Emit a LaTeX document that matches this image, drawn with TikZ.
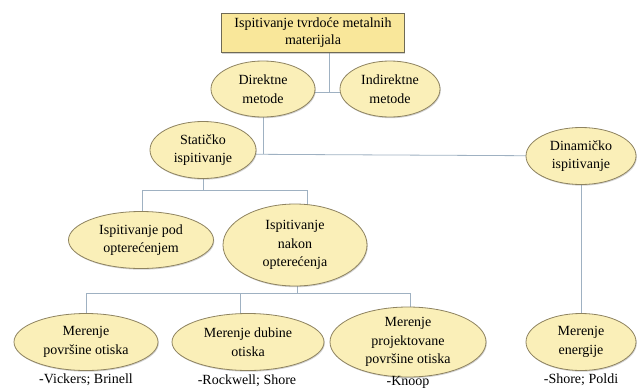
\documentclass[tikz,border=0pt]{standalone}
\usepackage{fontspec}
\setmainfont{Liberation Serif}
\usetikzlibrary{shapes.geometric,shadows}
\pgfdeclarelayer{bg}
\pgfsetlayers{bg,main}
\definecolor{conncol}{HTML}{9FB1C2}
\definecolor{ellin}{HTML}{FAEFB8}
\definecolor{ellmid}{HTML}{F3DF8E}
\definecolor{ellout}{HTML}{CDB054}
\definecolor{elldraw}{HTML}{8E8360}
\definecolor{titlefill}{HTML}{F9E79A}
\definecolor{titledraw}{HTML}{6F6A55}
\pgfdeclareradialshading{ellshade}{\pgfpoint{0bp}{0bp}}{color(0bp)=(ellin); color(26bp)=(ellin); color(41bp)=(ellmid); color(47bp)=(ellout); color(50bp)=(ellout)}
\tikzset{
  ell/.style={ellipse, inner sep=0pt, align=center, shading=ellshade,
    draw=elldraw, line width=0.8pt, drop shadow={shadow xshift=0.8pt, shadow yshift=-1.2pt, opacity=0.35},
    font=\fontsize{14}{18.5}\selectfont},
  titlebox/.style={rectangle, inner sep=0pt, align=center, fill=titlefill, draw=titledraw, line width=1pt,
    drop shadow={shadow xshift=0.8pt, shadow yshift=-1.2pt, opacity=0.35},
    font=\fontsize{14}{17}\selectfont},
  lbl/.style={inner sep=0pt, font=\fontsize{14}{17}\selectfont},
  conn/.style={draw=conncol, line width=0.8pt}
}
\begin{document}
\begin{tikzpicture}[x=1pt,y=-1pt]
\useasboundingbox (0,0) rectangle (640,389);
% nodes
\node[titlebox, minimum width=183pt, minimum height=39pt] (title) at (313,33) {Ispitivanje tvrdoće metalnih\\materijala};
\node[ell, minimum width=104pt, minimum height=56pt] (dir) at (263,89) {Direktne\\metode};
\node[ell, minimum width=100pt, minimum height=56pt] (ind) at (390,89) {Indirektne\\metode};
\node[ell, minimum width=106pt, minimum height=57pt] (stat) at (203,150) {Statičko\\ispitivanje};
\node[ell, minimum width=110pt, minimum height=57pt] (din) at (581,156) {Dinamičko\\ispitivanje};
\node[ell, minimum width=145pt, minimum height=57pt] (pod) at (141,240) {Ispitivanje pod\\opterećenjem};
\node[ell, minimum width=144pt, minimum height=82pt] (nakon) at (295,245) {Ispitivanje\\nakon\\opterećenja};
\node[ell, minimum width=144pt, minimum height=57pt] (m1) at (86,342) {Merenje\\površine otiska};
\node[ell, minimum width=152pt, minimum height=57pt] (m2) at (248,342) {Merenje dubine\\otiska};
\node[ell, minimum width=156pt, minimum height=70pt] (m3) at (408,342) {Merenje\\projektovane\\površine otiska};
\node[ell, minimum width=110pt, minimum height=57pt] (m4) at (581,342) {Merenje\\energije};
\node[lbl] (l1) at (86,380) {-Vickers; Brinell};
\node[lbl] (l2) at (247,381) {-Rockwell; Shore};
\node[lbl] (l3) at (408,382) {-Knoop};
\node[lbl] (l4) at (581,380) {-Shore; Poldi};
% junction coordinates
\coordinate (j1) at (329,92);
\coordinate (j2) at (263,154);
\coordinate (j3a) at (142,190);
\coordinate (j3b) at (307,190);
\coordinate (j4) at (297,293);
\coordinate (j4a) at (86,293);
\coordinate (j4b) at (240,293);
\coordinate (j4c) at (410,293);
\begin{pgfonlayer}{bg}
\fill[white] (0,0) rectangle (640,389);
\draw[conn] (title.south -| j1) -- (j1);
\draw[conn] (dir.center |- j1) -- (ind.center |- j1);
\draw[conn] (dir.center -| j2) -- (j2);
\draw[conn] (stat.center |- j2) -- (din.center);
\draw[conn] (stat.center) -- (stat.center |- j3a) -- (j3a) -- (pod.center -| j3a);
\draw[conn] (j3a) -- (j3b) -- (nakon.center -| j3b);
\draw[conn] (nakon.center -| j4) -- (j4);
\draw[conn] (j4a) -- (j4c);
\draw[conn] (j4a) -- (m1.center -| j4a);
\draw[conn] (j4b) -- (m2.center -| j4b);
\draw[conn] (j4c) -- (m3.center -| j4c);
\draw[conn] (din.center) -- (m4.center);
\end{pgfonlayer}
\end{tikzpicture}
\end{document}
